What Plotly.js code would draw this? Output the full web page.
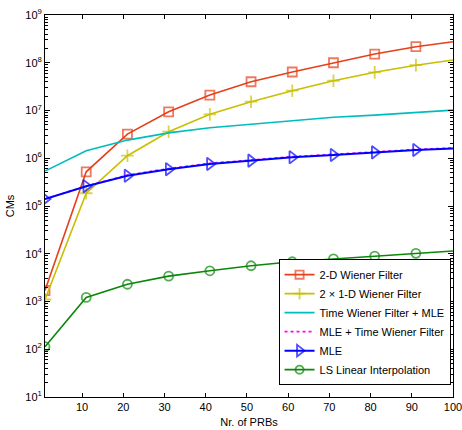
<!DOCTYPE html>
<html>
<head>
<meta charset="utf-8">
<script src="https://cdn.plot.ly/plotly-3.0.1.min.js"></script>
<style>html,body{margin:0;padding:0;background:#fff;}#chart{width:462px;height:430px;}</style>
</head>
<body>
<div id="chart"></div>
<script>
var prbs = [1, 11, 21, 31, 41, 51, 61, 71, 81, 91, 100];
var wiener2D = [1.7e3, 5.2e5, 3.2e6, 9.4e6, 2.1e7, 4.0e7, 6.4e7, 1.0e8, 1.52e8, 2.17e8, 2.76e8];
var wiener2x1D = [1.1e3, 1.85e5, 1.13e6, 3.6e6, 8.3e6, 1.53e7, 2.6e7, 4.2e7, 6.3e7, 8.9e7, 1.14e8];
var timeWienerMLE = [5.4e5, 1.44e6, 2.4e6, 3.4e6, 4.35e6, 5.2e6, 6.2e6, 7.2e6, 8.0e6, 9.0e6, 1.02e7];
var mleTimeWiener = [1.4e5, 2.6e5, 4.45e5, 6.1e5, 7.85e5, 9.2e5, 1.08e6, 1.21e6, 1.37e6, 1.53e6, 1.65e6];
var mle = [1.4e5, 2.6e5, 4.3e5, 5.9e5, 7.6e5, 8.9e5, 1.05e6, 1.17e6, 1.33e6, 1.49e6, 1.6e6];
var lsLinear = [1.13e2, 1.22e3, 2.3e3, 3.4e3, 4.4e3, 5.6e3, 6.8e3, 7.8e3, 8.9e3, 1.02e4, 1.14e4];

var names = ['2-D Wiener Filter', '2 \u00D7 1-D Wiener Filter', 'Time Wiener Filter + MLE',
             'MLE + Time Wiener Filter', 'MLE', 'LS Linear Interpolation'];
var yTickVals = [1e1, 1e2, 1e3, 1e4, 1e5, 1e6, 1e7, 1e8, 1e9];
var yTickText = yTickVals.map(function(v){ return '10<sup>' + Math.round(Math.log10(v)) + '</sup>'; });
var xTickVals = [10, 20, 30, 40, 50, 60, 70, 80, 90, 100];

var minorVals = [];
for (var d = 1; d < 9; d++) { for (var m = 2; m <= 9; m++) { minorVals.push(m * Math.pow(10, d)); } }

function sizes(s) { return prbs.map(function(v){ return v === 100 ? 0 : s; }); }

var traces = [
  {x: prbs, y: wiener2D, name: names[0], mode: 'lines+markers',
   line: {color: '#e5401a', width: 1.6},
   marker: {symbol: 'square-open', size: sizes(9), color: '#e5401a', line: {width: 1.8, color: '#e5401a'}}},
  {x: prbs, y: wiener2x1D, name: names[1], mode: 'lines+markers',
   line: {color: '#c8bf00', width: 1.6},
   marker: {symbol: 'cross-thin-open', size: sizes(9), color: '#c8bf00', line: {width: 1.8, color: '#c8bf00'}}},
  {x: prbs, y: timeWienerMLE, name: names[2], mode: 'lines',
   line: {color: '#00bdbd', width: 1.6}},
  {x: prbs, y: mleTimeWiener, name: names[3], mode: 'lines',
   line: {color: '#ff00ff', width: 1.6, dash: 'dot'}},
  {x: prbs, y: mle, name: names[4], mode: 'lines+markers',
   line: {color: '#0000ff', width: 2},
   marker: {symbol: 'triangle-right-open', size: sizes(11), color: '#0000ff', line: {width: 1.8, color: '#0000ff'}}},
  {x: prbs, y: lsLinear, name: names[5], mode: 'lines+markers',
   line: {color: '#0a870a', width: 1.6},
   marker: {symbol: 'circle-open', size: sizes(9), color: '#0a870a', line: {width: 1.8, color: '#0a870a'}}}
];

var layout = {
  width: 462, height: 430,
  margin: {l: 45, r: 9, t: 15, b: 33},
  paper_bgcolor: '#fff', plot_bgcolor: '#fff',
  font: {family: 'Liberation Sans, Arial, sans-serif', size: 11, color: '#000'},
  showlegend: true,
  legend: {x: 0.994, y: 0.031, xanchor: 'right', yanchor: 'bottom',
           bgcolor: '#fff', bordercolor: '#000', borderwidth: 1,
           font: {size: 11}, tracegroupgap: 0, itemwidth: 30},
  xaxis: {range: [1, 100], tickmode: 'array', tickvals: xTickVals,
          ticks: 'inside', ticklen: 4, tickcolor: '#000', tickwidth: 1,
          ticklabeloverflow: 'allow',
          showline: true, linecolor: '#000', linewidth: 1, mirror: 'ticks',
          showgrid: false, zeroline: false,
          title: {text: 'Nr. of PRBs', font: {size: 11}, standoff: 6}},
  yaxis: {type: 'log', range: [1, 9], tickmode: 'array', tickvals: yTickVals, ticktext: yTickText,
          ticks: 'inside', ticklen: 5, tickcolor: '#000', tickwidth: 1,
          ticklabeloverflow: 'allow',
          showline: true, linecolor: '#000', linewidth: 1, mirror: 'ticks',
          showgrid: false, zeroline: false,
          minor: {tickmode: 'array', tickvals: minorVals, ticks: 'inside', ticklen: 3, tickcolor: '#000', showgrid: false},
          title: {text: 'CMs', font: {size: 11}, standoff: 8}}
};

Plotly.newPlot('chart', traces, layout, {displayModeBar: false, staticPlot: true});
</script>
</body>
</html>
